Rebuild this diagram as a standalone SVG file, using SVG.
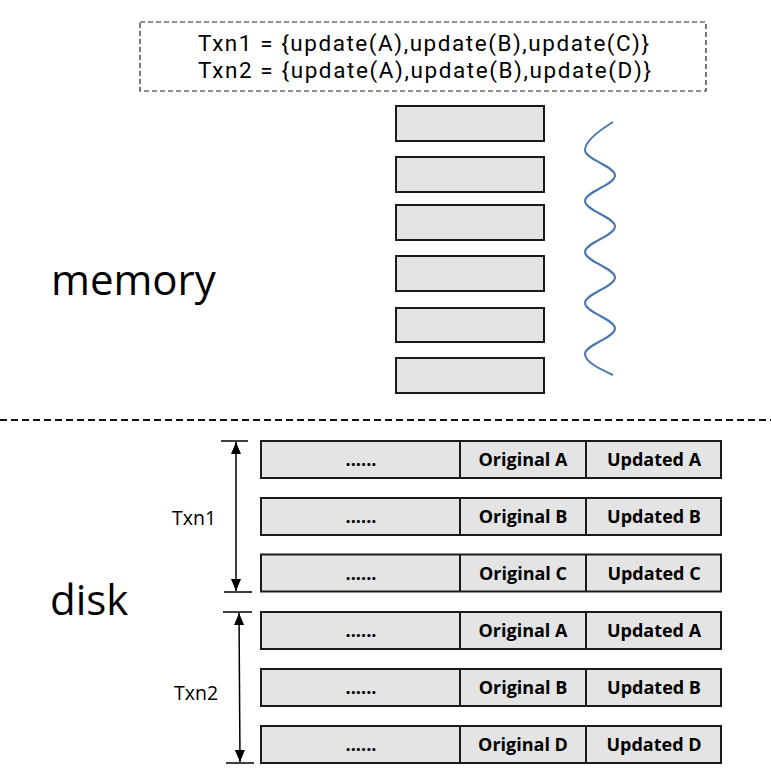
<svg xmlns="http://www.w3.org/2000/svg" width="771" height="776" viewBox="0 0 771 776">
<style>
  .box { fill: #e4e4e4; stroke: #1a1a1a; stroke-width: 2; }
  .div { stroke: #1a1a1a; stroke-width: 2; }
  .cell { font-family: "Open Sans", "Noto Sans", "Liberation Sans", sans-serif; font-weight: bold; font-size: 18px; fill: #000; text-anchor: middle; }
  .big { font-family: "Open Sans", "Noto Sans", "Liberation Sans", sans-serif; font-size: 42px; fill: #000; }
  .lbl { font-family: "Open Sans", "Noto Sans", "Liberation Sans", sans-serif; font-size: 19.5px; fill: #000; }
  .txn { font-family: Roboto, "Open Sans", "Liberation Sans", sans-serif; font-size: 22.5px; fill: #000; }
  .tick { stroke: #000; stroke-width: 1.5; }
  .arrow { stroke: #000; stroke-width: 1.5; fill: none; marker-start: url(#ah); marker-end: url(#ah); }
</style>
<defs>
  <marker id="ah" markerUnits="userSpaceOnUse" markerWidth="13" markerHeight="10" refX="12" refY="5" orient="auto-start-reverse">
    <path d="M0,0 L12,5 L0,10 z" fill="#000"/>
  </marker>
</defs>
<rect width="771" height="776" fill="#fff"/>

<g id="txn-def">
  <rect x="140" y="22" width="566" height="69" fill="none" stroke="#222" stroke-width="1.2" stroke-dasharray="5,3"/>
  <text class="txn" x="198" y="51" textLength="451" lengthAdjust="spacing">Txn1 = {update(A),update(B),update(C)}</text>
  <text class="txn" x="198" y="78" textLength="453" lengthAdjust="spacing">Txn2 = {update(A),update(B),update(D)}</text>
</g>

<g id="memory-label"><text class="big" x="51" y="295">memory</text></g>
<g id="disk-label"><text class="big" x="50" y="615">disk</text></g>

<g id="memory-blocks">
  <rect class="box" x="396" y="106" width="148" height="35"/>
  <rect class="box" x="396" y="157" width="148" height="35"/>
  <rect class="box" x="396" y="205" width="148" height="35"/>
  <rect class="box" x="396" y="256" width="148" height="35"/>
  <rect class="box" x="396" y="308" width="148" height="34"/>
  <rect class="box" x="396" y="358" width="148" height="35"/>
</g>

<g id="wave">
  <path d="M613,122 C600,130 585,141 585,150 C585,159.3 615,166.2 615,175.5 C615,184.8 585,191.7 585,201 C585,210.3 615,217.2 615,226.5 C615,235.8 585,242.7 585,252 C585,261.3 615,268.2 615,277.5 C615,286.8 585,293.7 585,303 C585,312.3 615,319.2 615,328.5 C615,337.8 585,344.7 585,354 C585,362 600,369 613,375" fill="none" stroke="#4a78ad" stroke-width="2"/>
</g>

<g id="separator">
  <line x1="0" y1="420" x2="771" y2="420" stroke="#111" stroke-width="2" stroke-dasharray="7,4"/>
</g>

<g id="row1">
  <rect class="box" x="261" y="441" width="460" height="37"/>
  <line class="div" x1="460" y1="441" x2="460" y2="478"/>
  <line class="div" x1="586" y1="441" x2="586" y2="478"/>
  <text class="cell" x="361" y="466">......</text>
  <text class="cell" x="523" y="466">Original A</text>
  <text class="cell" x="654" y="466">Updated A</text>
</g>
<g id="row2">
  <rect class="box" x="261" y="498" width="460" height="37"/>
  <line class="div" x1="460" y1="498" x2="460" y2="535"/>
  <line class="div" x1="586" y1="498" x2="586" y2="535"/>
  <text class="cell" x="361" y="523">......</text>
  <text class="cell" x="523" y="523">Original B</text>
  <text class="cell" x="654" y="523">Updated B</text>
</g>
<g id="row3">
  <rect class="box" x="261" y="554.5" width="460" height="37"/>
  <line class="div" x1="460" y1="554.5" x2="460" y2="591.5"/>
  <line class="div" x1="586" y1="554.5" x2="586" y2="591.5"/>
  <text class="cell" x="361" y="579.5">......</text>
  <text class="cell" x="523" y="579.5">Original C</text>
  <text class="cell" x="654" y="579.5">Updated C</text>
</g>
<g id="row4">
  <rect class="box" x="261" y="612" width="460" height="37"/>
  <line class="div" x1="460" y1="612" x2="460" y2="649"/>
  <line class="div" x1="586" y1="612" x2="586" y2="649"/>
  <text class="cell" x="361" y="637">......</text>
  <text class="cell" x="523" y="637">Original A</text>
  <text class="cell" x="654" y="637">Updated A</text>
</g>
<g id="row5">
  <rect class="box" x="261" y="669" width="460" height="37"/>
  <line class="div" x1="460" y1="669" x2="460" y2="706"/>
  <line class="div" x1="586" y1="669" x2="586" y2="706"/>
  <text class="cell" x="361" y="694">......</text>
  <text class="cell" x="523" y="694">Original B</text>
  <text class="cell" x="654" y="694">Updated B</text>
</g>
<g id="row6">
  <rect class="box" x="261" y="726" width="460" height="37"/>
  <line class="div" x1="460" y1="726" x2="460" y2="763"/>
  <line class="div" x1="586" y1="726" x2="586" y2="763"/>
  <text class="cell" x="361" y="751">......</text>
  <text class="cell" x="523" y="751">Original D</text>
  <text class="cell" x="654" y="751">Updated D</text>
</g>

<g id="connectors">
  <line class="tick" x1="221" y1="441" x2="248" y2="441"/>
  <line class="tick" x1="224" y1="592" x2="252" y2="592"/>
  <line class="arrow" x1="236" y1="442" x2="236" y2="591"/>
  <line class="tick" x1="223" y1="612" x2="252" y2="612"/>
  <line class="tick" x1="226" y1="763" x2="254" y2="763"/>
  <line class="arrow" x1="239" y1="613" x2="240" y2="762"/>
</g>

<g id="txn1-label"><text class="lbl" x="172" y="525">Txn1</text></g>
<g id="txn2-label"><text class="lbl" x="174" y="700">Txn2</text></g>
</svg>
